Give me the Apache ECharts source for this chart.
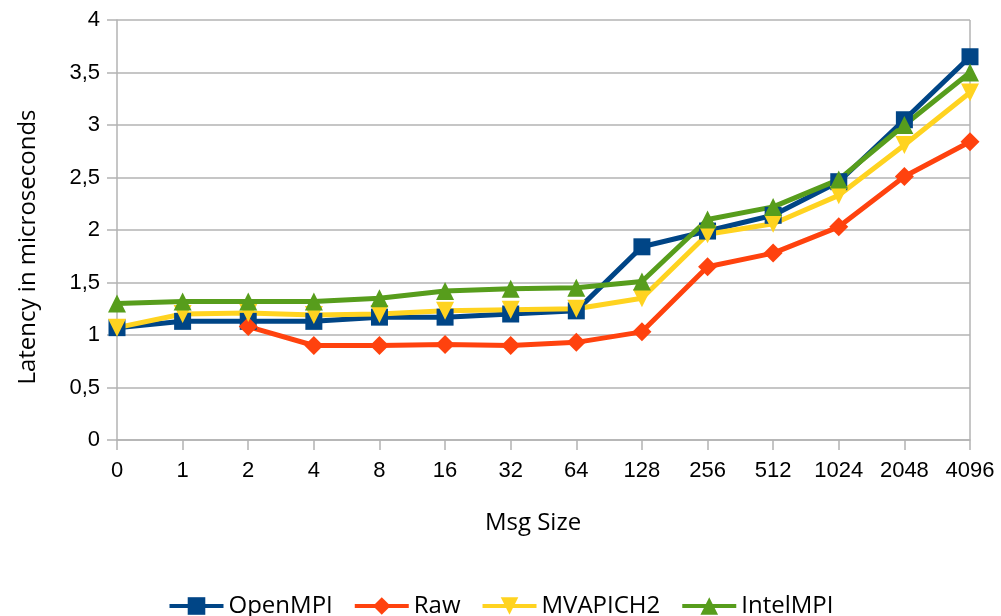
<!DOCTYPE html>
<html>
<head>
<meta charset="utf-8">
<title>Latency by message size</title>
<script src="https://cdn.jsdelivr.net/npm/echarts@6/dist/echarts.min.js"></script>
<style>
  html, body { margin: 0; padding: 0; background: #fff; }
  #chart { width: 1001px; height: 616px; }
</style>
</head>
<body>
<div id="chart"></div>
<script>
// Message sizes (bytes) along the x axis
const msgSizes = ['0', '1', '2', '4', '8', '16', '32', '64', '128', '256', '512', '1024', '2048', '4096'];

// Latency in microseconds per implementation
const openMPI  = [1.07, 1.13, 1.13, 1.13, 1.17, 1.17, 1.20, 1.23, 1.84, 1.99, 2.14, 2.46, 3.05, 3.65];
const raw      = [null, null, 1.08, 0.90, 0.90, 0.91, 0.90, 0.93, 1.03, 1.65, 1.78, 2.03, 2.51, 2.84];
const mvapich2 = [1.07, 1.20, 1.21, 1.19, 1.20, 1.23, 1.24, 1.25, 1.35, 1.96, 2.06, 2.33, 2.81, 3.31];
const intelMPI = [1.30, 1.32, 1.32, 1.32, 1.35, 1.42, 1.44, 1.45, 1.51, 2.10, 2.22, 2.48, 3.00, 3.50];

const seriesNames = ['OpenMPI', 'Raw', 'MVAPICH2', 'IntelMPI'];
const seriesColors = ['#004586', '#ff420e', '#ffd320', '#579d1c'];

const gridColor = '#b3b3b3';
const labelFont = 'Liberation Sans, Arial, sans-serif';
const titleFont = 'Open Sans, sans-serif';

function lineSeries(name, data, color, symbol, size, rotate) {
  return {
    name: name,
    type: 'line',
    data: data,
    symbol: symbol,
    symbolSize: size,
    symbolRotate: rotate || 0,
    showSymbol: true,
    connectNulls: false,
    lineStyle: { color: color, width: 5 },
    itemStyle: { color: color },
    emphasis: { disabled: true },
    animation: false
  };
}

const chart = echarts.init(document.getElementById('chart'), null, { renderer: 'canvas' });

chart.setOption({
  backgroundColor: '#ffffff',
  animation: false,
  grid: { left: 117, right: 31, top: 20, bottom: 176, containLabel: false },
  legend: {
    data: seriesNames,
    left: 'center',
    top: 589,
    itemWidth: 54,
    itemHeight: 22,
    itemGap: 20,
    lineStyle: { width: 4 },
    textStyle: { fontFamily: titleFont, fontSize: 24, color: '#000' }
  },
  xAxis: {
    type: 'category',
    data: msgSizes,
    boundaryGap: false,
    axisLine: { show: true, lineStyle: { color: gridColor, width: 1.5 } },
    axisTick: { show: true, length: 10, inside: false, lineStyle: { color: gridColor, width: 1.5 } },
    axisLabel: { margin: 20, fontFamily: labelFont, fontSize: 22, color: '#000', interval: 0 },
    splitLine: {
      show: true,
      interval: function (index) { return index === msgSizes.length - 1; },
      lineStyle: { color: gridColor, width: 1.5 }
    }
  },
  yAxis: {
    type: 'value',
    min: 0,
    max: 4,
    interval: 0.5,
    axisLine: { show: true, lineStyle: { color: gridColor, width: 1.5 } },
    axisTick: { show: true, length: 10, lineStyle: { color: gridColor, width: 1.5 } },
    axisLabel: {
      margin: 17,
      fontFamily: labelFont,
      fontSize: 22,
      color: '#000',
      formatter: function (v) { return String(v).replace('.', ','); }
    },
    splitLine: { show: true, lineStyle: { color: gridColor, width: 1.5 } }
  },
  graphic: [
    {
      type: 'text',
      x: 28,
      y: 247,
      rotation: Math.PI / 2,
      style: {
        text: 'Latency in microseconds',
        font: '24px "Open Sans", sans-serif',
        fill: '#000',
        textAlign: 'center',
        textVerticalAlign: 'middle'
      }
    },
    {
      type: 'text',
      x: 533,
      y: 523,
      style: {
        text: 'Msg Size',
        font: '24px "Open Sans", sans-serif',
        fill: '#000',
        textAlign: 'center',
        textVerticalAlign: 'middle'
      }
    }
  ],
  series: [
    lineSeries(seriesNames[0], openMPI, seriesColors[0], 'rect', 17),
    lineSeries(seriesNames[1], raw, seriesColors[1], 'diamond', 19),
    lineSeries(seriesNames[2], mvapich2, seriesColors[2], 'triangle', 18, 180),
    lineSeries(seriesNames[3], intelMPI, seriesColors[3], 'triangle', 18)
  ]
});
</script>
</body>
</html>
